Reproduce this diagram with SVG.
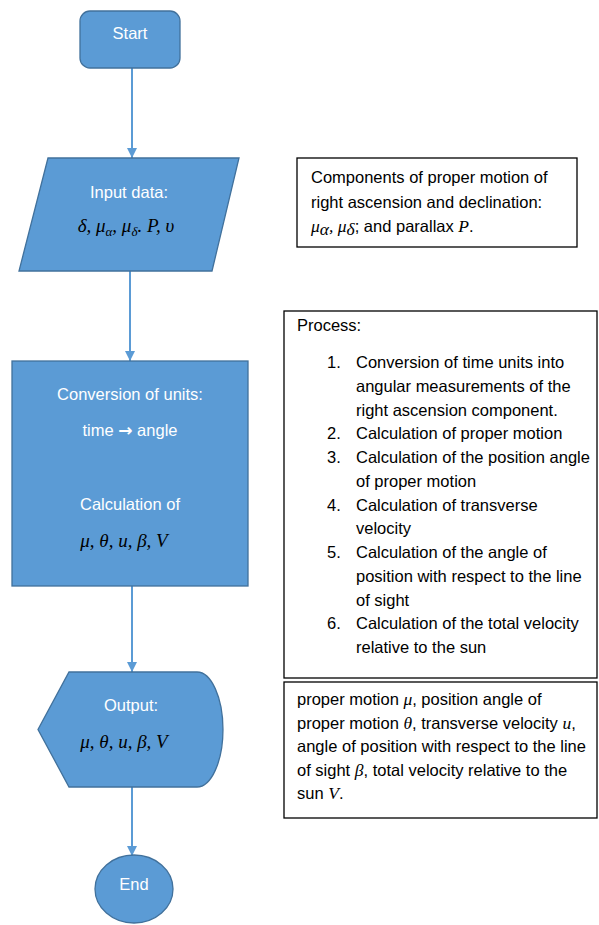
<svg xmlns="http://www.w3.org/2000/svg" width="599" height="925" viewBox="0 0 599 925">
<style>
.shape{fill:#5B9BD5;stroke:#41719C;stroke-width:1.3}
.st{font-family:"Liberation Sans",Arial,sans-serif;font-size:16.5px;fill:#FFFFFF;text-anchor:middle}
.arr{font-family:"DejaVu Sans",sans-serif;font-weight:bold;font-size:17px}
.math{font-family:"Liberation Serif","Times New Roman",serif;font-style:italic;font-size:19px;fill:#000000;text-anchor:middle}
.sub{font-size:13px}
.box{fill:#FFFFFF;stroke:#000000;stroke-width:1.3}
.bt{font-family:"Liberation Sans",Arial,sans-serif;font-size:16.5px;fill:#000000}
.bm{font-family:"Liberation Serif","Times New Roman",serif;font-style:italic;font-size:17.5px}
.conn{stroke:#5B9BD5;stroke-width:2;fill:none;marker-end:url(#ah)}
</style>
<defs>
<marker id="ah" viewBox="0 0 10 10" refX="10" refY="5" markerWidth="5" markerHeight="5" orient="auto" markerUnits="strokeWidth">
<path d="M0,0 L10,5 L0,10 Z" fill="#5B9BD5"/>
</marker>
</defs>
<rect width="599" height="925" fill="#FFFFFF"/>
<g id="connectors">
<line class="conn" x1="132" y1="68" x2="132" y2="158"/>
<line class="conn" x1="130" y1="271" x2="130" y2="361"/>
<line class="conn" x1="132" y1="586" x2="132" y2="672"/>
<line class="conn" x1="132" y1="787" x2="132" y2="856"/>
</g>
<g id="start">
<rect class="shape" x="80" y="11" width="100" height="57" rx="10"/>
<text class="st" x="130" y="39">Start</text>
</g>
<g id="input">
<polygon class="shape" points="48,158 239,158 212,271 19,271"/>
<text class="st" x="129" y="198">Input data:</text>
<text class="math" x="126" y="232">δ, μ<tspan class="sub" dy="4">α</tspan><tspan dy="-4">, μ</tspan><tspan class="sub" dy="4">δ</tspan><tspan dy="-4">. P, υ</tspan></text>
</g>
<g id="process">
<rect class="shape" x="12" y="361" width="236" height="225"/>
<text class="st" x="130" y="400">Conversion of units:</text>
<text class="st" x="130" y="436">time <tspan class="arr">→</tspan> angle</text>
<text class="st" x="130" y="510">Calculation of</text>
<text class="math" x="124" y="547">μ, θ, u, β, V</text>
</g>
<g id="output">
<path class="shape" d="M69,672 L197,672 A26,57.5 0 0 1 197,787 L69,787 L38,729.5 Z"/>
<text class="st" x="131" y="711">Output:</text>
<text class="math" x="124" y="748">μ, θ, u, β, V</text>
</g>
<g id="end">
<ellipse class="shape" cx="134" cy="889" rx="39" ry="34"/>
<text class="st" x="134" y="890">End</text>
</g>
<g id="note-input">
<rect class="box" x="297" y="158" width="280" height="89"/>
<text class="bt" x="311" y="183">Components of proper motion of</text>
<text class="bt" x="311" y="208">right ascension and declination:</text>
<text class="bt" x="311" y="232"><tspan class="bm">μ</tspan><tspan class="bm" font-size="12" dy="3">α</tspan><tspan class="bm" dy="-3">, μ</tspan><tspan class="bm" font-size="12" dy="3">δ</tspan><tspan dy="-3">; and parallax </tspan><tspan class="bm">P</tspan>.</text>
</g>
<g id="note-process">
<rect class="box" x="284" y="311" width="313" height="367"/>
<text class="bt" x="297" y="331">Process:</text>
<text class="bt" x="327" y="368">1.</text>
<text class="bt" x="356" y="368">Conversion of time units into</text>
<text class="bt" x="356" y="391.75">angular measurements of the</text>
<text class="bt" x="356" y="415.5">right ascension component.</text>
<text class="bt" x="327" y="439.25">2.</text>
<text class="bt" x="356" y="439.25">Calculation of proper motion</text>
<text class="bt" x="327" y="463">3.</text>
<text class="bt" x="356" y="463">Calculation of the position angle</text>
<text class="bt" x="356" y="486.75">of proper motion</text>
<text class="bt" x="327" y="510.5">4.</text>
<text class="bt" x="356" y="510.5">Calculation of transverse</text>
<text class="bt" x="356" y="534.25">velocity</text>
<text class="bt" x="327" y="558">5.</text>
<text class="bt" x="356" y="558">Calculation of the angle of</text>
<text class="bt" x="356" y="581.75">position with respect to the line</text>
<text class="bt" x="356" y="605.5">of sight</text>
<text class="bt" x="327" y="629.25">6.</text>
<text class="bt" x="356" y="629.25">Calculation of the total velocity</text>
<text class="bt" x="356" y="653">relative to the sun</text>
</g>
<g id="note-output">
<rect class="box" x="284" y="682" width="313" height="136"/>
<text class="bt" x="297" y="705">proper motion <tspan class="bm">μ</tspan>, position angle of</text>
<text class="bt" x="297" y="728.5">proper motion <tspan class="bm">θ</tspan>, transverse velocity <tspan class="bm">u</tspan>,</text>
<text class="bt" x="297" y="752">angle of position with respect to the line</text>
<text class="bt" x="297" y="775.5">of sight <tspan class="bm">β</tspan>, total velocity relative to the</text>
<text class="bt" x="297" y="799">sun <tspan class="bm">V</tspan>.</text>
</g>
</svg>
